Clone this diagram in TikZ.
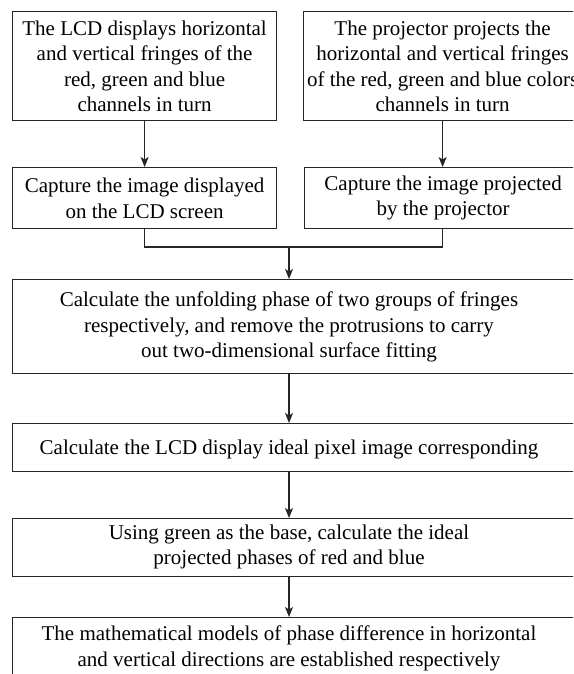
\documentclass[tikz,border=0pt]{standalone}
\usepackage{fontspec}
\setmainfont{Liberation Serif}
\usetikzlibrary{arrows.meta}
\begin{document}
\begin{tikzpicture}[x=1pt,y=-1pt,
  boxshape/.style={draw=black!85, line width=1.2pt, rectangle, inner sep=0pt,
    anchor=north west, align=center, font=\fontsize{21}{25.5}\selectfont},
  txt/.style={inner sep=0pt, align=center, font=\fontsize{21}{25.5}\selectfont},
  arr/.style={draw=black!85, line width=1.2pt, -{Stealth[length=10pt,width=8pt,inset=2.5pt]}},
  conn/.style={draw=black!85, line width=1.2pt}]
\useasboundingbox (0,0) rectangle (573,674);
\clip (0,0) rectangle (573,674);
\node[boxshape, minimum width=264pt, minimum height=109pt] (b1) at (12,11)
  {The LCD displays horizontal\\and vertical fringes of the\\red, green and blue\\channels in turn};
\node[boxshape, minimum width=278pt, minimum height=109pt] (r1) at (303,11)
  {The projector projects the\\horizontal and vertical fringes\\of the red, green and blue colors\\channels in turn};
\node[boxshape, minimum width=264pt, minimum height=61pt] (b2) at (12,167)
  {Capture the image displayed\\on the LCD screen};
\node[boxshape, minimum width=277pt, minimum height=61pt] (r2) at (304,167)
  {Capture the image projected\\by the projector};
\node[boxshape, minimum width=588pt, minimum height=94pt] (b3) at (12,279) {};
\node[boxshape, minimum width=588pt, minimum height=48pt] (b4) at (12,423) {};
\node[boxshape, minimum width=588pt, minimum height=58pt] (b5) at (12,518) {};
\node[boxshape, minimum width=588pt, minimum height=73pt] (b6) at (12,617) {};
\node[txt] (t3) at (289,327)
  {Calculate the unfolding phase of two groups of fringes\\respectively, and remove the protrusions to carry\\out two-dimensional surface fitting};
\node[txt] (t4) at (289,449)
  {Calculate the LCD display ideal pixel image corresponding};
\node[txt] (t5) at (289,547)
  {Using green as the base, calculate the ideal\\projected phases of red and blue};
\node[txt] (t6) at (289,648.5)
  {The mathematical models of phase difference in horizontal\\and vertical directions are established respectively};
\coordinate (join) at (289,247);
\draw[arr] (b1.south) -- (b2.north);
\draw[arr] (r1.south) -- (r1.south |- r2.north);
\draw[conn] (b2.south) |- (join) -| (r1.south |- r2.south);
\draw[arr] (join) -- (join |- b3.north);
\draw[arr] (t3 |- b3.south) -- (t3 |- b4.north);
\draw[arr] (t4 |- b4.south) -- (t4 |- b5.north);
\draw[arr] (t5 |- b5.south) -- (t5 |- b6.north);
\end{tikzpicture}
\end{document}
